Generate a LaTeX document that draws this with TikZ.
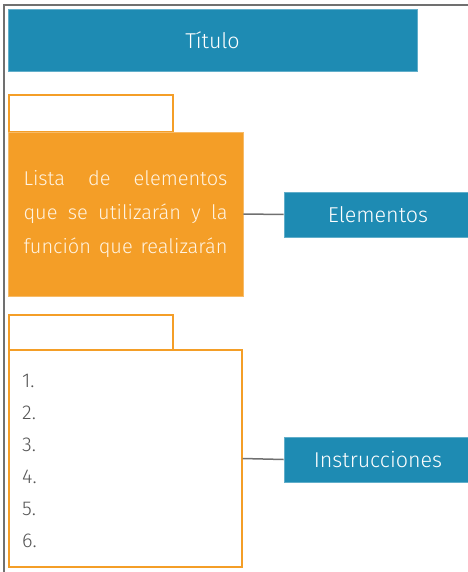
\documentclass[tikz,border=0pt]{standalone}
\usepackage{fontspec}
\setmainfont{Fira Sans}[UprightFont=* Light]
\definecolor{tblue}{HTML}{1E8BB3}
\definecolor{torange}{HTML}{F49E27}
\definecolor{tgray}{HTML}{707070}
\definecolor{tnum}{HTML}{555555}
\definecolor{tcream}{HTML}{FFF4E2}
\begin{document}
\begin{tikzpicture}[x=1pt,y=-1pt,
  bluebox/.style={rectangle, fill=tblue, draw=tblue!70!white, line width=0.6pt, inner sep=0pt, text=white, font=\fontsize{21.5}{24}\selectfont},
  tabbox/.style={rectangle, draw=torange, fill=white, line width=1.3pt, inner sep=0pt},
  link/.style={draw=tgray, line width=1.5pt}
]
\useasboundingbox (0,0) rectangle (467,572);
\draw[tgray, line width=1.6pt] (4,5) rectangle (480,590);
\node[bluebox, minimum width=409pt, minimum height=62pt] (title) at (212.5,40) {Título};
\node[tabbox, minimum width=164pt, minimum height=37pt] (tab1) at (91,113.5) {};
\node[rectangle, fill=torange, draw=torange!70!white, line width=0.6pt, inner sep=0pt, minimum width=235pt, minimum height=164pt, text=tcream, font=\fontsize{20}{34}\selectfont, align=left, text width=204pt] (elist) at (125.5,214)
  {Lista\hfill de\hfill elementos\\que\hfill se\hfill utilizarán\hfill y\hfill la\\función\hfill que\hfill realizarán};
\node[bluebox, minimum width=188pt, minimum height=45pt] (elem) at (378,214.5) {Elementos};
\draw[link] (elist.east) -- (elem.west);
\node[tabbox, minimum width=164pt, minimum height=35pt] (tab2) at (91,332.5) {};
\node[tabbox, minimum width=233pt, minimum height=217pt] (ilist) at (125.5,458.5) {};
\node[anchor=west, text=tnum, align=left, inner sep=0pt, font=\fontsize{20}{32}\selectfont] (nums) at (22,461) {1.\\2.\\3.\\4.\\5.\\6.};
\node[bluebox, minimum width=188pt, minimum height=45pt] (instr) at (378,459.5) {Instrucciones};
\draw[link] (ilist.east) -- (instr.west);
\end{tikzpicture}
\end{document}
